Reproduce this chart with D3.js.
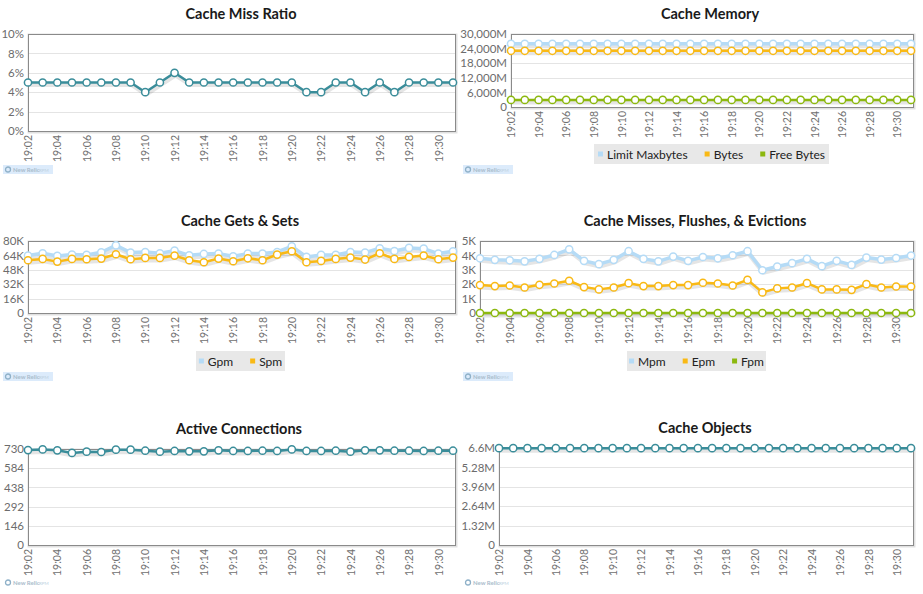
<!DOCTYPE html>
<html><head><meta charset="utf-8">
<script src="https://cdn.jsdelivr.net/npm/d3@7"></script>
<style>
html,body{margin:0;padding:0;background:#fff;}
svg{display:block;font-family:Lato,"Liberation Sans",sans-serif;}
</style></head>
<body>
<svg id="c" width="923" height="594"></svg>
<script>
const times = ["19:02","19:03","19:04","19:05","19:06","19:07","19:08","19:09","19:10","19:11","19:12","19:13","19:14","19:15","19:16","19:17","19:18","19:19","19:20","19:21","19:22","19:23","19:24","19:25","19:26","19:27","19:28","19:29","19:30","19:31"];
const tickLabels = ["19:02","19:04","19:06","19:08","19:10","19:12","19:14","19:16","19:18","19:20","19:22","19:24","19:26","19:28","19:30"];

// Cache Miss Ratio (%)
const missRatio = [5,5,5,5,5,5,5,5,4,5,6,5,5,5,5,5,5,5,5,4,4,5,5,4,5,4,5,5,5,5];
const missRatioTicks = [0,2,4,6,8,10];

// Cache Memory (M)
const limitMaxbytes = [26000,26000,26000,26000,26000,26000,26000,26000,26000,26000,26000,26000,26000,26000,26000,26000,26000,26000,26000,26000,26000,26000,26000,26000,26000,26000,26000,26000,26000,26000];
const bytes = [23100,23100,23100,23100,23100,23100,23100,23100,23100,23100,23100,23100,23100,23100,23100,23100,23100,23100,23100,23100,23100,23100,23100,23100,23100,23100,23100,23100,23100,23100];
const freeBytes = [2900,2900,2900,2900,2900,2900,2900,2900,2900,2900,2900,2900,2900,2900,2900,2900,2900,2900,2900,2900,2900,2900,2900,2900,2900,2900,2900,2900,2900,2900];
const memoryTicks = [0,6000,12000,18000,24000,30000];

// Cache Gets & Sets (K)
const gpm = [63.8,66.4,63.4,64.9,64.5,67.5,75.2,67.1,67.8,66.4,69.3,64.1,65.6,66.0,63.0,66.0,66.0,67.8,74.1,62.3,64.5,64.5,67.8,67.1,71.9,68.9,72.3,71.5,66.0,68.6];
const spm = [58.6,60.1,57.1,60.1,59.7,60.5,65.3,59.7,61.2,61.2,63.8,58.6,56.4,60.5,57.5,60.8,58.6,64.9,68.6,56.4,57.9,60.1,61.6,59.4,66.4,60.1,62.3,63.8,59.7,61.6];
const getsTicks = [0,16,32,48,64,80];

// Cache Misses, Flushes & Evictions (K)
const mpm = [3.80,3.69,3.66,3.59,3.76,4.03,4.42,3.62,3.39,3.69,4.29,3.76,3.59,3.92,3.62,3.89,3.80,4.01,4.29,2.97,3.23,3.46,3.76,3.25,3.62,3.34,3.85,3.71,3.82,3.99];
const epm = [1.94,1.87,1.91,1.77,1.96,2.05,2.24,1.80,1.64,1.77,2.07,1.87,1.87,1.94,1.94,2.10,2.05,1.91,2.30,1.43,1.71,1.77,2.07,1.64,1.64,1.61,2.00,1.77,1.84,1.84];
const fpm = [0,0,0,0,0,0,0,0,0,0,0,0,0,0,0,0,0,0,0,0,0,0,0,0,0,0,0,0,0,0];
const missesTicks = [0,1,2,3,4,5];

// Active Connections
const connections = [722,727,720,700,710,707,725,725,717,710,715,712,712,720,715,715,717,715,727,715,715,717,710,720,720,717,717,715,717,717];
const connTicks = [0,146,292,438,584,730];

// Cache Objects (M)
const objects = [6.59,6.59,6.59,6.59,6.59,6.59,6.59,6.59,6.59,6.59,6.59,6.59,6.59,6.59,6.59,6.59,6.59,6.59,6.59,6.59,6.59,6.59,6.59,6.59,6.59,6.59,6.59,6.59,6.59,6.59];
const objectTicks = [0,1.32,2.64,3.96,5.28,6.6];

const TEAL = "#3a8d9a", LBLUE = "#b5dbf6", YELLOW = "#f9b915", GREEN = "#8cb80f";

const svg = d3.select("#c");

function drawChart(cfg){
  const g = svg.append("g");
  const x = d3.scalePoint().domain(times).range([cfg.left, cfg.right - 2]);
  const y = d3.scaleLinear().domain([0, cfg.ticks[cfg.ticks.length-1]]).range([cfg.bottom, cfg.top]);

  // title
  g.append("text").attr("x", cfg.cx).attr("y", cfg.top - 15)
    .attr("text-anchor","middle").attr("font-size", 14.5).attr("font-weight","bold")
    .attr("fill","#1a1a1a").text(cfg.title);

  // plot shadow
  g.append("rect").attr("x", cfg.left+1).attr("y", cfg.top+1)
    .attr("width", cfg.right-cfg.left).attr("height", cfg.bottom-cfg.top)
    .attr("fill","none").attr("stroke","rgba(0,0,0,0.12)").attr("stroke-width",3);
  g.append("rect").attr("x", cfg.left).attr("y", cfg.top)
    .attr("width", cfg.right-cfg.left).attr("height", cfg.bottom-cfg.top)
    .attr("fill","#fff");

  // gridlines
  g.append("g").selectAll("line").data(cfg.ticks.slice(1, -1)).join("line")
    .attr("x1", cfg.left).attr("x2", cfg.right)
    .attr("y1", d => Math.round(y(d))+0.5).attr("y2", d => Math.round(y(d))+0.5)
    .attr("stroke","#e4e4e4");

  g.append("rect").attr("x", cfg.left+0.5).attr("y", cfg.top+0.5)
    .attr("width", cfg.right-cfg.left).attr("height", cfg.bottom-cfg.top)
    .attr("fill","none").attr("stroke","#8a8a8a");

  // y axis
  const ya = g.append("g").attr("transform", `translate(${cfg.left},0)`)
    .call(d3.axisLeft(y).tickValues(cfg.ticks).tickFormat(cfg.fmt).tickSize(0).tickPadding(cfg.ypad || 4));
  ya.select(".domain").remove();
  ya.selectAll("text").attr("font-size", 11.5).attr("fill","#6c6c6c").attr("font-family","Lato,'Liberation Sans',sans-serif");

  // x axis
  const xa = g.append("g").attr("transform", `translate(0,${cfg.bottom})`)
    .call(d3.axisBottom(x).tickValues(tickLabels).tickSize(0));
  xa.select(".domain").remove();
  xa.selectAll("text").attr("transform","rotate(-90)").attr("y",0).attr("x",-4).attr("dy","0.35em")
    .style("text-anchor","end").attr("font-size", 10.5).attr("fill","#707070")
    .attr("font-family","Lato,'Liberation Sans',sans-serif");

  const line = d3.line().x((d,i) => x(times[i])).y(d => y(d));
  cfg.series.forEach(s => {
    const sg = g.append("g");
    sg.append("path").datum(s.values).attr("d", line).attr("fill","none")
      .attr("transform","translate(1,2)")
      .attr("stroke","rgba(0,0,0,0.10)").attr("stroke-width",5).attr("stroke-linejoin","round");
    sg.append("path").datum(s.values).attr("d", line).attr("fill","none")
      .attr("stroke", s.color).attr("stroke-width", s.width || 2.5).attr("stroke-linejoin","round");
    sg.selectAll("circle").data(s.values).join("circle")
      .attr("cx",(d,i) => x(times[i])).attr("cy", d => y(d)).attr("r",3.6)
      .attr("fill","#fff").attr("stroke", s.color).attr("stroke-width",1.5);
  });

  // legend
  if (cfg.legend){
    const L = cfg.legend;
    const lg = g.append("g");
    lg.append("rect").attr("x", L.x).attr("y", L.y).attr("width", L.w).attr("height", 20).attr("fill","#e8e8e8");
    const items = lg.append("g");
    let cx = 0;
    cfg.series.forEach((s, i) => {
      if (i > 0) cx += 17;
      items.append("rect").attr("x", cx).attr("y", L.y + 7.5).attr("width",5).attr("height",5).attr("fill", s.color);
      const t = items.append("text").attr("x", cx + 9).attr("y", L.y + 14.5).attr("font-size", 12).attr("fill","#222").text(s.name);
      cx += 9 + t.node().getComputedTextLength();
    });
    items.attr("transform", `translate(${L.x + (L.w - cx)/2},0)`);
  }

  // logo
  const lo = g.append("g");
  if (cfg.logoBox) lo.append("rect").attr("x",3).attr("y",0).attr("width",50).attr("height",9).attr("fill","#dcebfb");
  lo.append("circle").attr("cx",8).attr("cy",4.5).attr("r",2.5).attr("fill","none").attr("stroke","#8fb1c9").attr("stroke-width",1.3);
  lo.append("text").attr("x",13).attr("y",7).attr("font-size",6).attr("font-weight","bold").attr("fill","#a9bccb").text("New Relic");
  lo.append("text").attr("x",39).attr("y",7).attr("font-size",4.5).attr("fill","#bcd0e0").text("RPM");
  lo.attr("transform", `translate(${cfg.logoX},${cfg.logoY})`);
}

const fmtPct = d => d + "%";
const fmtM = d => d === 0 ? "0" : d3.format(",")(d) + "M";
const fmtK = d => d === 0 ? "0" : d + "K";
const fmtN = d => String(d);
const fmtObj = d => d === 0 ? "0" : d + "M";

drawChart({title:"Cache Miss Ratio", cx:241, left:28, right:455, top:34, bottom:131, ticks:missRatioTicks, fmt:fmtPct,
  series:[{name:"Miss Ratio", values:missRatio, color:TEAL}], logoX:0, logoY:165, logoBox:true});
drawChart({title:"Cache Memory", cx:710, left:511, right:913, top:34, bottom:107, ticks:memoryTicks, fmt:fmtM,
  series:[{name:"Limit Maxbytes", values:limitMaxbytes, color:LBLUE, width:3.5},{name:"Bytes", values:bytes, color:YELLOW},{name:"Free Bytes", values:freeBytes, color:GREEN}],
  legend:{x:594, y:144, w:235}, logoX:460, logoY:165, logoBox:true});
drawChart({title:"Cache Gets & Sets", cx:240, left:28, right:455, top:241, bottom:313, ticks:getsTicks, fmt:fmtK,
  series:[{name:"Gpm", values:gpm, color:LBLUE, width:3.5},{name:"Spm", values:spm, color:YELLOW}],
  legend:{x:196, y:351, w:89}, logoX:0, logoY:372, logoBox:true});
drawChart({title:"Cache Misses, Flushes, & Evictions", cx:695, left:480, right:913, top:241, bottom:313, ticks:missesTicks, fmt:fmtK,
  series:[{name:"Mpm", values:mpm, color:LBLUE, width:3.5},{name:"Epm", values:epm, color:YELLOW},{name:"Fpm", values:fpm, color:GREEN}],
  legend:{x:627, y:351, w:139}, logoX:460, logoY:372, logoBox:true});
drawChart({title:"Active Connections", cx:239, left:28, right:455, top:449, bottom:545, ticks:connTicks, fmt:fmtN,
  series:[{name:"Connections", values:connections, color:TEAL}], logoX:0, logoY:578, logoBox:false});
drawChart({title:"Cache Objects", cx:705, left:499, right:913, top:448, bottom:545, ticks:objectTicks, fmt:fmtObj,
  series:[{name:"Objects", values:objects, color:TEAL}], logoX:460, logoY:578, logoBox:false});
</script>
</body></html>
